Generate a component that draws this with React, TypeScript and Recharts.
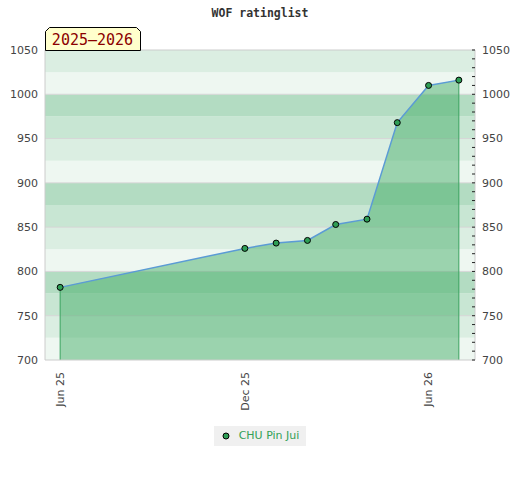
import { ComposedChart, Area, XAxis, YAxis, ReferenceArea, ReferenceLine, Legend } from 'recharts';

// rating history, one point per list
const listDates = [
  Date.UTC(2025, 5, 1),
  Date.UTC(2025, 11, 1),
  Date.UTC(2026, 0, 1),
  Date.UTC(2026, 1, 1),
  Date.UTC(2026, 2, 1),
  Date.UTC(2026, 3, 1),
  Date.UTC(2026, 4, 1),
  Date.UTC(2026, 5, 1),
  Date.UTC(2026, 6, 1),
];
const ratings = [782, 826, 832, 835, 853, 859, 968, 1010, 1016];
const playerName = 'CHU Pin Jui';

const dateTicks = [Date.UTC(2025, 5, 1), Date.UTC(2025, 11, 1), Date.UTC(2026, 5, 1)];
const xDomain = [Date.UTC(2025, 4, 17), Date.UTC(2026, 6, 17)];
const yDomain = [700, 1050];
const leftTicks = [700, 750, 800, 850, 900, 950, 1000, 1050];
const rightTicks = [
  700, 710, 720, 730, 740, 750, 760, 770, 780, 790, 800, 810, 820, 830, 840, 850, 860, 870,
  880, 890, 900, 910, 920, 930, 940, 950, 960, 970, 980, 990, 1000, 1010, 1020, 1030, 1040, 1050,
];
const bandEdges = [700, 725, 750, 775, 800, 825, 850, 875, 900, 925, 950, 975, 1000, 1025, 1050];
const gridValues = [750, 800, 850, 900, 950, 1000];

const bandColors = ['#eef7f1', '#dbeee2', '#c8e6d3', '#b3dcc2'];
const MONTHS = ['Jan', 'Feb', 'Mar', 'Apr', 'May', 'Jun', 'Jul', 'Aug', 'Sep', 'Oct', 'Nov', 'Dec'];

const data = listDates.map((t, i) => ({ t, rating: ratings[i] }));

const fmtDate = (v: number) => {
  const d = new Date(v);
  return `${MONTHS[d.getUTCMonth()]} ${String(d.getUTCFullYear()).slice(2)}`;
};

const FONT = '"DejaVu Sans", sans-serif';

const XTick = ({ x, y, payload }: any) => (
  <g transform={`translate(${x},${y})`}>
    <text transform="rotate(-90)" textAnchor="end" dy="0.35em" fontSize={11} fill="#444" fontFamily={FONT}>
      {fmtDate(payload.value)}
    </text>
  </g>
);

const RightTick = ({ x, y, payload }: any) => (
  <g>
    <line x1={x - 3} x2={x} y1={y} y2={y} stroke="#222" strokeWidth={1} />
    {payload.value % 50 === 0 && (
      <text x={x + 7} y={y} dy="0.35em" fontSize={11} fill="#444" fontFamily={FONT}>
        {payload.value}
      </text>
    )}
  </g>
);

const renderLegend = () => (
  <div style={{ display: 'flex', justifyContent: 'center' }}>
    <div
      style={{
        background: '#f0f0f0',
        padding: '3px 7px 3px 8px',
        display: 'flex',
        alignItems: 'center',
        fontFamily: FONT,
        fontSize: 11,
        lineHeight: '14px',
        color: '#33a056',
      }}
    >
      <svg width={8} height={8} style={{ marginRight: 9 }}>
        <circle cx={4} cy={4} r={3} fill="#2e9e55" stroke="#000" strokeWidth={1} />
      </svg>
      {playerName}
    </div>
  </div>
);

export default function App() {
  const first = data[0];
  const last = data[data.length - 1];
  return (
    <div style={{ position: 'absolute', left: 0, top: 0, width: 520, height: 480, background: '#fff' }}>
      <ComposedChart width={520} height={480} data={data} margin={{ top: 50, right: 0, bottom: 0, left: 0 }}>
        <XAxis
          dataKey="t"
          type="number"
          domain={xDomain}
          ticks={dateTicks}
          allowDataOverflow
          tickLine={false}
          tickSize={0}
          tickMargin={12}
          axisLine={{ stroke: '#cccccc' }}
          height={120}
          tick={<XTick />}
        />
        <YAxis
          yAxisId="left"
          domain={yDomain}
          ticks={leftTicks}
          allowDataOverflow
          width={45}
          tickLine={false}
          tickSize={5}
          tickMargin={2}
          axisLine={{ stroke: '#cccccc' }}
          tick={{ fontSize: 11, fill: '#444', fontFamily: FONT }}
        />
        <YAxis
          yAxisId="right"
          orientation="right"
          domain={yDomain}
          ticks={rightTicks}
          interval={0}
          allowDataOverflow
          width={45}
          tickLine={false}
          tickSize={0}
          tickMargin={0}
          axisLine={{ stroke: '#cccccc' }}
          tick={<RightTick />}
        />
        {bandEdges.slice(0, -1).map((lo, i) => (
          <ReferenceArea
            key={`band-${lo}`}
            yAxisId="left"
            y1={lo}
            y2={bandEdges[i + 1]}
            fill={bandColors[i % 4]}
            fillOpacity={1}
            stroke="none"
            ifOverflow="hidden"
            zIndex={-60}
          />
        ))}
        {gridValues.map((v) => (
          <ReferenceLine key={`grid-${v}`} yAxisId="left" y={v} stroke="#d6d6d6" zIndex={-40} />
        ))}
        <ReferenceLine yAxisId="left" y={yDomain[1]} stroke="#cccccc" />
        <Area
          yAxisId="left"
          dataKey="rating"
          name={playerName}
          type="linear"
          stroke="#5b9bd5"
          strokeWidth={1.5}
          fill="#3faa63"
          fillOpacity={0.475}
          baseValue={yDomain[0]}
          dot={{ r: 3, fill: '#2e9e55', stroke: '#000', strokeWidth: 1, fillOpacity: 1 }}
          activeDot={false}
          isAnimationActive={false}
        />
        <ReferenceLine
          yAxisId="left"
          segment={[{ x: first.t, y: yDomain[0] }, { x: first.t, y: first.rating }]}
          stroke="#3aa35f"
        />
        <ReferenceLine
          yAxisId="left"
          segment={[{ x: last.t, y: yDomain[0] }, { x: last.t, y: last.rating }]}
          stroke="#3aa35f"
        />
        <Legend
          verticalAlign="middle"
          align="center"
          layout="horizontal"
          content={renderLegend}
          wrapperStyle={{ top: 426, left: 0, width: 520 }}
        />
      </ComposedChart>
      <svg width={520} height={60} style={{ position: 'absolute', left: 0, top: 0, pointerEvents: 'none' }}>
        <text
          x={260}
          y={17}
          textAnchor="middle"
          fontFamily='"DejaVu Sans Mono", monospace'
          fontWeight="bold"
          fontSize={11.5}
          fill="#333"
        >
          WOF ratinglist
        </text>
        <path d="M45.5,50.5 V31.5 L49.5,27.5 H136.5 L140.5,31.5 V50.5 Z" fill="#ffffcc" stroke="#000" strokeWidth={1} />
        <text x={92.5} y={45} textAnchor="middle" fontFamily='"DejaVu Sans Mono", monospace' fontSize={15} fill="#8b0000">
          2025–2026
        </text>
      </svg>
    </div>
  );
}
